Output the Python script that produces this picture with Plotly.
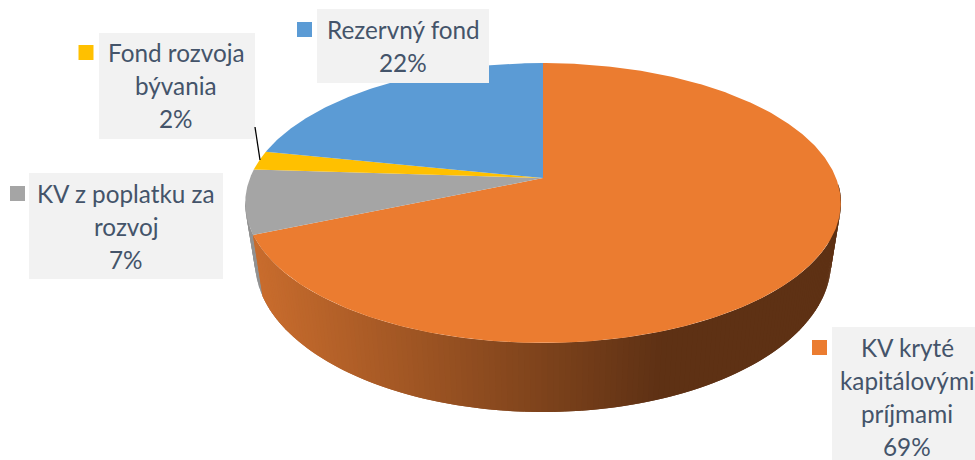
import numpy as np
import plotly.graph_objects as go

# Data (clockwise from 12 o'clock)
categories = [["KV kryté", "kapitálovými", "príjmami"], ["KV z poplatku za", "rozvoj"], ["Fond rozvoja", "bývania"], ["Rezervný fond"]]
values = [68.6, 7.4, 2.2, 21.8]
colors = ["#EB7C30", "#A5A5A5", "#FFC000", "#5B9BD5"]
wall_colors_left = [(200, 108, 45), (146, 146, 146), (150, 115, 0), (70, 110, 150)]
wall_colors_dark = [(94, 49, 20), (90, 90, 90), (90, 70, 0), (40, 70, 100)]

# Layout boxes: x0, y0, x1, y1 (pixel-like canvas units)
label_boxes = [(832, 327, 990, 475), (29, 173, 223, 279), (99, 33, 255, 139), (317, 9, 489, 83)]
label_centres = [(907, 397), (126, 226), (176, 85), (403, 46)]
key_positions = [(819.5, 347.5), (17.5, 193.5), (86, 52.5), (304.5, 29.5)]
LINE_STEP = 33

# 3D projection of the pie disc
CX, APEX_Y, B, A, K = 543.0, 178.0, 293.0, 135.5, 0.1786
EC_Y, E_RX, E_RY = 203.0, 298.0, 140.0
LOW_Y, LOW_RX, LOW_RY = 262.0, 288.0, 150.0


def project(theta):
    px, py = np.sin(theta), np.cos(theta)
    d = 1 + K * py
    return CX + B * px / d, APEX_Y - A * py / d


fig = go.Figure()
cum = np.cumsum([0] + values) / sum(values) * 2 * np.pi


def wall_rgb(i, x):
    t = np.clip((x - 255) / (660 - 255), 0, 1)
    a, b = wall_colors_left[i], wall_colors_dark[i]
    return "rgb(%d,%d,%d)" % tuple(round(a[c] + (b[c] - a[c]) * t) for c in range(3))


# Side wall, drawn first so the top face covers its upper edge
for i in [1, 0]:
    th = np.linspace(cum[i], cum[i + 1], 260)
    x, y = project(th)
    u = np.unwrap(np.arctan2((y - EC_Y) / E_RY, (x - CX) / E_RX))
    lo, hi = -0.15, np.pi + 0.15
    u = u[(u >= lo) & (u <= hi)]
    if u.size < 2:
        continue
    if i == 1:
        # gray wall sits behind the orange wall, out to the silhouette
        u = np.linspace(u.min() - 0.25, np.pi + 0.02, 12)
    for j in range(len(u) - 1):
        uu = np.linspace(u[j], u[min(j + 2, len(u) - 1)], 3)
        tx, ty = CX + E_RX * np.cos(uu), EC_Y + E_RY * np.sin(uu)
        bx, by = CX + LOW_RX * np.cos(uu), LOW_Y + LOW_RY * np.sin(uu)
        fig.add_trace(go.Scatter(
            x=np.r_[tx, bx[::-1]], y=np.r_[ty, by[::-1]], mode="lines",
            fill="toself", fillcolor=wall_rgb(i, tx.mean()) if i == 0 else "rgb(146,146,146)",
            line=dict(width=0), hoverinfo="skip", showlegend=False))

# Top face
for i, (name, val) in enumerate(zip(categories, values)):
    th = np.linspace(cum[i], cum[i + 1], max(int(val * 6), 12))
    x, y = project(th)
    fig.add_trace(go.Scatter(
        x=np.r_[CX, x, CX], y=np.r_[APEX_Y, y, APEX_Y], mode="lines",
        fill="toself", fillcolor=colors[i], line=dict(width=0),
        name=" ".join(name), text=f"{round(val)}%", hoverinfo="name+text", showlegend=False))

# Legend keys beside the data labels
for i in range(len(categories)):
    fig.add_trace(go.Scatter(
        x=[key_positions[i][0]], y=[key_positions[i][1]], mode="markers",
        marker=dict(symbol="square", size=15, color=colors[i], line=dict(width=0)),
        hoverinfo="skip", showlegend=False))

shapes = [dict(type="rect", xref="x", yref="y", x0=b[0], y0=b[1], x1=b[2], y1=b[3],
               fillcolor="#F2F2F2", line=dict(width=0), layer="above") for b in label_boxes]
shapes.append(dict(type="line", xref="x", yref="y", x0=255, y0=127, x1=260, y1=160,
                   line=dict(color="#000000", width=1.3), layer="above"))

annotations = []
for i, c in enumerate(label_centres):
    lines = categories[i] + [f"{round(values[i])}%"]
    for k, line in enumerate(lines):
        annotations.append(dict(
            x=c[0], y=c[1] + (k - (len(lines) - 1) / 2) * LINE_STEP, xref="x", yref="y",
            showarrow=False, align="center", text=line,
            font=dict(family="Lato", size=24.3, color="#44546A")))

fig.update_layout(
    width=975, height=460, margin=dict(l=0, r=0, t=0, b=0),
    paper_bgcolor="#FFFFFF", plot_bgcolor="#FFFFFF", showlegend=False,
    xaxis=dict(range=[0, 975], visible=False, fixedrange=True),
    yaxis=dict(range=[460, 0], visible=False, fixedrange=True),
    shapes=shapes, annotations=annotations)

fig.write_html("out.html", config=dict(displayModeBar=False),
               post_script="document.body.style.margin='0';document.body.style.overflow='hidden';")
